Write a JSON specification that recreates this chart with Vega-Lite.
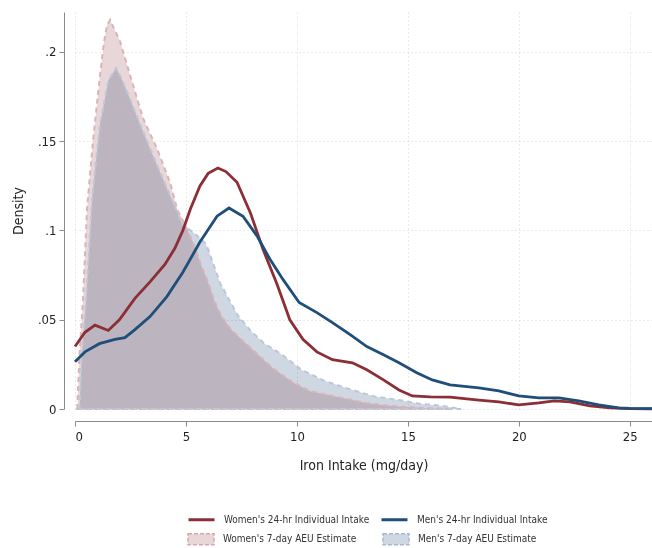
{
  "$schema": "https://vega.github.io/schema/vega-lite/v6.json",
  "width": 577,
  "height": 397,
  "autosize": "none",
  "padding": {"left": 75, "top": 12, "right": 0, "bottom": 139},
  "background": "white",
  "config": {
    "font": "DejaVu Sans Condensed, Liberation Sans Narrow, Liberation Sans",
    "view": {"stroke": null},
    "axis": {
      "grid": true,
      "gridDash": [1, 3],
      "gridColor": "#d4d4d4",
      "gridWidth": 1,
      "domainColor": "#8a8a8a",
      "tickColor": "#8a8a8a",
      "tickSize": 5,
      "labelColor": "#222222",
      "labelFontSize": 13,
      "titleColor": "#222222",
      "titleFontSize": 14,
      "titleFontWeight": "normal"
    },
    "legend": {
      "labelFont": "DejaVu Sans Condensed, Liberation Sans Narrow, Liberation Sans",
      "labelFontSize": 10,
      "labelColor": "#333333"
    }
  },
  "data": {
    "values": [
      {"series": "Women's 24-hr Individual Intake", "x": 0, "y": 0.035},
      {"series": "Women's 24-hr Individual Intake", "x": 0.45, "y": 0.043},
      {"series": "Women's 24-hr Individual Intake", "x": 0.9, "y": 0.047},
      {"series": "Women's 24-hr Individual Intake", "x": 1.5, "y": 0.044},
      {"series": "Women's 24-hr Individual Intake", "x": 2.0, "y": 0.05},
      {"series": "Women's 24-hr Individual Intake", "x": 2.7, "y": 0.062},
      {"series": "Women's 24-hr Individual Intake", "x": 3.4, "y": 0.0715},
      {"series": "Women's 24-hr Individual Intake", "x": 4.05, "y": 0.081},
      {"series": "Women's 24-hr Individual Intake", "x": 4.5, "y": 0.09},
      {"series": "Women's 24-hr Individual Intake", "x": 4.86, "y": 0.1},
      {"series": "Women's 24-hr Individual Intake", "x": 5.2, "y": 0.112},
      {"series": "Women's 24-hr Individual Intake", "x": 5.63, "y": 0.125},
      {"series": "Women's 24-hr Individual Intake", "x": 6.0, "y": 0.132},
      {"series": "Women's 24-hr Individual Intake", "x": 6.44, "y": 0.135},
      {"series": "Women's 24-hr Individual Intake", "x": 6.8, "y": 0.133},
      {"series": "Women's 24-hr Individual Intake", "x": 7.3, "y": 0.127},
      {"series": "Women's 24-hr Individual Intake", "x": 7.9, "y": 0.11},
      {"series": "Women's 24-hr Individual Intake", "x": 8.47, "y": 0.0895},
      {"series": "Women's 24-hr Individual Intake", "x": 9.1, "y": 0.07},
      {"series": "Women's 24-hr Individual Intake", "x": 9.68, "y": 0.05},
      {"series": "Women's 24-hr Individual Intake", "x": 10.27, "y": 0.039},
      {"series": "Women's 24-hr Individual Intake", "x": 10.9, "y": 0.032},
      {"series": "Women's 24-hr Individual Intake", "x": 11.6, "y": 0.0276},
      {"series": "Women's 24-hr Individual Intake", "x": 12.5, "y": 0.0259},
      {"series": "Women's 24-hr Individual Intake", "x": 13.15, "y": 0.022},
      {"series": "Women's 24-hr Individual Intake", "x": 13.9, "y": 0.0163},
      {"series": "Women's 24-hr Individual Intake", "x": 14.6, "y": 0.0107},
      {"series": "Women's 24-hr Individual Intake", "x": 15.2, "y": 0.0073},
      {"series": "Women's 24-hr Individual Intake", "x": 16.0, "y": 0.0068},
      {"series": "Women's 24-hr Individual Intake", "x": 16.9, "y": 0.0066},
      {"series": "Women's 24-hr Individual Intake", "x": 18.2, "y": 0.005},
      {"series": "Women's 24-hr Individual Intake", "x": 19.1, "y": 0.004},
      {"series": "Women's 24-hr Individual Intake", "x": 20.0, "y": 0.0023},
      {"series": "Women's 24-hr Individual Intake", "x": 20.9, "y": 0.0034},
      {"series": "Women's 24-hr Individual Intake", "x": 21.6, "y": 0.0045},
      {"series": "Women's 24-hr Individual Intake", "x": 22.3, "y": 0.004},
      {"series": "Women's 24-hr Individual Intake", "x": 23.2, "y": 0.0017},
      {"series": "Women's 24-hr Individual Intake", "x": 24.1, "y": 0.0006},
      {"series": "Women's 24-hr Individual Intake", "x": 25, "y": 0.0002},
      {"series": "Women's 24-hr Individual Intake", "x": 26, "y": 0.0001},

      {"series": "Men's 24-hr Individual Intake", "x": 0, "y": 0.0265},
      {"series": "Men's 24-hr Individual Intake", "x": 0.45, "y": 0.032},
      {"series": "Men's 24-hr Individual Intake", "x": 1.1, "y": 0.0366},
      {"series": "Men's 24-hr Individual Intake", "x": 1.8, "y": 0.039},
      {"series": "Men's 24-hr Individual Intake", "x": 2.25, "y": 0.04},
      {"series": "Men's 24-hr Individual Intake", "x": 2.7, "y": 0.0445},
      {"series": "Men's 24-hr Individual Intake", "x": 3.38, "y": 0.0518},
      {"series": "Men's 24-hr Individual Intake", "x": 4.14, "y": 0.063},
      {"series": "Men's 24-hr Individual Intake", "x": 4.86, "y": 0.0766},
      {"series": "Men's 24-hr Individual Intake", "x": 5.63, "y": 0.0935},
      {"series": "Men's 24-hr Individual Intake", "x": 6.4, "y": 0.108},
      {"series": "Men's 24-hr Individual Intake", "x": 6.94, "y": 0.1126},
      {"series": "Men's 24-hr Individual Intake", "x": 7.57, "y": 0.108},
      {"series": "Men's 24-hr Individual Intake", "x": 8.2, "y": 0.097},
      {"series": "Men's 24-hr Individual Intake", "x": 8.78, "y": 0.084},
      {"series": "Men's 24-hr Individual Intake", "x": 9.37, "y": 0.0726},
      {"series": "Men's 24-hr Individual Intake", "x": 10.1, "y": 0.0597},
      {"series": "Men's 24-hr Individual Intake", "x": 10.9, "y": 0.054},
      {"series": "Men's 24-hr Individual Intake", "x": 11.6, "y": 0.0484},
      {"series": "Men's 24-hr Individual Intake", "x": 12.4, "y": 0.0417},
      {"series": "Men's 24-hr Individual Intake", "x": 13.15, "y": 0.035},
      {"series": "Men's 24-hr Individual Intake", "x": 13.9, "y": 0.0304},
      {"series": "Men's 24-hr Individual Intake", "x": 14.6, "y": 0.0259},
      {"series": "Men's 24-hr Individual Intake", "x": 15.4, "y": 0.0203},
      {"series": "Men's 24-hr Individual Intake", "x": 16.1, "y": 0.0163},
      {"series": "Men's 24-hr Individual Intake", "x": 16.9, "y": 0.0135},
      {"series": "Men's 24-hr Individual Intake", "x": 18.2, "y": 0.0118},
      {"series": "Men's 24-hr Individual Intake", "x": 19.1, "y": 0.0101},
      {"series": "Men's 24-hr Individual Intake", "x": 20.0, "y": 0.0073},
      {"series": "Men's 24-hr Individual Intake", "x": 20.9, "y": 0.0062},
      {"series": "Men's 24-hr Individual Intake", "x": 21.8, "y": 0.0062},
      {"series": "Men's 24-hr Individual Intake", "x": 22.7, "y": 0.0045},
      {"series": "Men's 24-hr Individual Intake", "x": 23.6, "y": 0.0023},
      {"series": "Men's 24-hr Individual Intake", "x": 24.5, "y": 0.0006},
      {"series": "Men's 24-hr Individual Intake", "x": 25, "y": 0.0003},
      {"series": "Men's 24-hr Individual Intake", "x": 26, "y": 0.0002},

      {"series": "Women's 7-day AEU Estimate", "x": 0.1, "y": 0},
      {"series": "Women's 7-day AEU Estimate", "x": 0.2, "y": 0.03},
      {"series": "Women's 7-day AEU Estimate", "x": 0.36, "y": 0.061},
      {"series": "Women's 7-day AEU Estimate", "x": 0.54, "y": 0.112},
      {"series": "Women's 7-day AEU Estimate", "x": 0.81, "y": 0.15},
      {"series": "Women's 7-day AEU Estimate", "x": 1.13, "y": 0.187},
      {"series": "Women's 7-day AEU Estimate", "x": 1.3, "y": 0.205},
      {"series": "Women's 7-day AEU Estimate", "x": 1.44, "y": 0.215},
      {"series": "Women's 7-day AEU Estimate", "x": 1.58, "y": 0.218},
      {"series": "Women's 7-day AEU Estimate", "x": 1.8, "y": 0.212},
      {"series": "Women's 7-day AEU Estimate", "x": 2.03, "y": 0.206},
      {"series": "Women's 7-day AEU Estimate", "x": 2.48, "y": 0.187},
      {"series": "Women's 7-day AEU Estimate", "x": 3.06, "y": 0.163},
      {"series": "Women's 7-day AEU Estimate", "x": 3.69, "y": 0.146},
      {"series": "Women's 7-day AEU Estimate", "x": 4.28, "y": 0.127},
      {"series": "Women's 7-day AEU Estimate", "x": 4.6, "y": 0.112},
      {"series": "Women's 7-day AEU Estimate", "x": 5.0, "y": 0.102},
      {"series": "Women's 7-day AEU Estimate", "x": 5.33, "y": 0.093},
      {"series": "Women's 7-day AEU Estimate", "x": 5.7, "y": 0.08},
      {"series": "Women's 7-day AEU Estimate", "x": 6.0, "y": 0.071},
      {"series": "Women's 7-day AEU Estimate", "x": 6.3, "y": 0.06},
      {"series": "Women's 7-day AEU Estimate", "x": 6.6, "y": 0.052},
      {"series": "Women's 7-day AEU Estimate", "x": 7.0, "y": 0.045},
      {"series": "Women's 7-day AEU Estimate", "x": 7.5, "y": 0.039},
      {"series": "Women's 7-day AEU Estimate", "x": 8.2, "y": 0.031},
      {"series": "Women's 7-day AEU Estimate", "x": 8.9, "y": 0.023},
      {"series": "Women's 7-day AEU Estimate", "x": 9.8, "y": 0.015},
      {"series": "Women's 7-day AEU Estimate", "x": 10.6, "y": 0.01},
      {"series": "Women's 7-day AEU Estimate", "x": 11.8, "y": 0.0068},
      {"series": "Women's 7-day AEU Estimate", "x": 13.1, "y": 0.0034},
      {"series": "Women's 7-day AEU Estimate", "x": 14.0, "y": 0.002},
      {"series": "Women's 7-day AEU Estimate", "x": 15.0, "y": 0.001},
      {"series": "Women's 7-day AEU Estimate", "x": 16.0, "y": 0.0004},
      {"series": "Women's 7-day AEU Estimate", "x": 17.0, "y": 0},

      {"series": "Men's 7-day AEU Estimate", "x": 0.2, "y": 0},
      {"series": "Men's 7-day AEU Estimate", "x": 0.3, "y": 0.03},
      {"series": "Men's 7-day AEU Estimate", "x": 0.5, "y": 0.061},
      {"series": "Men's 7-day AEU Estimate", "x": 0.77, "y": 0.118},
      {"series": "Men's 7-day AEU Estimate", "x": 0.99, "y": 0.144},
      {"series": "Men's 7-day AEU Estimate", "x": 1.13, "y": 0.16},
      {"series": "Men's 7-day AEU Estimate", "x": 1.26, "y": 0.168},
      {"series": "Men's 7-day AEU Estimate", "x": 1.5, "y": 0.184},
      {"series": "Men's 7-day AEU Estimate", "x": 1.85, "y": 0.191},
      {"series": "Men's 7-day AEU Estimate", "x": 2.1, "y": 0.185},
      {"series": "Men's 7-day AEU Estimate", "x": 2.34, "y": 0.178},
      {"series": "Men's 7-day AEU Estimate", "x": 2.79, "y": 0.164},
      {"series": "Men's 7-day AEU Estimate", "x": 3.38, "y": 0.146},
      {"series": "Men's 7-day AEU Estimate", "x": 3.96, "y": 0.129},
      {"series": "Men's 7-day AEU Estimate", "x": 4.41, "y": 0.116},
      {"series": "Men's 7-day AEU Estimate", "x": 4.86, "y": 0.103},
      {"series": "Men's 7-day AEU Estimate", "x": 5.33, "y": 0.099},
      {"series": "Men's 7-day AEU Estimate", "x": 5.86, "y": 0.093},
      {"series": "Men's 7-day AEU Estimate", "x": 6.0, "y": 0.0895},
      {"series": "Men's 7-day AEU Estimate", "x": 6.53, "y": 0.0708},
      {"series": "Men's 7-day AEU Estimate", "x": 7.0, "y": 0.06},
      {"series": "Men's 7-day AEU Estimate", "x": 7.36, "y": 0.052},
      {"series": "Men's 7-day AEU Estimate", "x": 7.9, "y": 0.044},
      {"series": "Men's 7-day AEU Estimate", "x": 8.5, "y": 0.037},
      {"series": "Men's 7-day AEU Estimate", "x": 9.38, "y": 0.03},
      {"series": "Men's 7-day AEU Estimate", "x": 10.2, "y": 0.022},
      {"series": "Men's 7-day AEU Estimate", "x": 11.2, "y": 0.016},
      {"series": "Men's 7-day AEU Estimate", "x": 12.4, "y": 0.011},
      {"series": "Men's 7-day AEU Estimate", "x": 13.5, "y": 0.007},
      {"series": "Men's 7-day AEU Estimate", "x": 14.6, "y": 0.005},
      {"series": "Men's 7-day AEU Estimate", "x": 15.5, "y": 0.003},
      {"series": "Men's 7-day AEU Estimate", "x": 16.4, "y": 0.002},
      {"series": "Men's 7-day AEU Estimate", "x": 17.4, "y": 0}
    ]
  },
  "encoding": {
    "x": {
      "field": "x", "type": "quantitative",
      "scale": {"domain": [0, 26], "nice": false, "zero": false},
      "axis": {"title": "Iron Intake (mg/day)", "values": [0, 5, 10, 15, 20, 25], "offset": 12, "labelPadding": 4, "titlePadding": 15}
    },
    "y": {
      "field": "y", "type": "quantitative", "stack": null,
      "scale": {"domain": [0, 0.2224], "nice": false},
      "axis": {"title": "Density", "values": [0, 0.05, 0.1, 0.15, 0.2], "offset": 11, "labelPadding": 3, "titlePadding": 12,
        "labelExpr": "datum.value == 0 ? '0' : replace(toString(datum.value), /^0/, '')"}
    }
  },
  "layer": [
    {
      "transform": [{"filter": "datum.series == \"Women's 7-day AEU Estimate\""}],
      "mark": {"type": "area"},
      "encoding": {
        "fill": {
          "field": "series", "type": "nominal",
          "scale": {"domain": ["Women's 7-day AEU Estimate", "Men's 7-day AEU Estimate"], "range": ["#e9d6d8", "#ced7e2"]},
          "legend": {
            "title": null, "orient": "none", "legendX": 112, "legendY": 513,
            "direction": "horizontal", "columns": 2, "columnPadding": 23,
            "symbolType": "M-1,-0.42H1V0.42H-1Z", "symbolSize": 676,
            "symbolStrokeWidth": 1.5, "symbolDash": [4, 2], "labelOffset": 8,
            "encode": {"symbols": {"update": {"stroke": {"signal": "indexof(datum.value, 'Men') === 0 ? '#a9b8cc' : '#d4a8ac'"}}}}
          }
        }
      }
    },
    {
      "transform": [{"filter": "datum.series == \"Men's 7-day AEU Estimate\""}],
      "mark": {"type": "area", "fill": "#ced7e2", "blend": "multiply"},
      "encoding": {}
    },
    {
      "transform": [{"filter": "datum.series == \"Women's 7-day AEU Estimate\""}],
      "mark": {"type": "area", "fillOpacity": 0, "stroke": "#d9b4b8", "strokeWidth": 2, "strokeDash": [5, 4]},
      "encoding": {}
    },
    {
      "transform": [{"filter": "datum.series == \"Men's 7-day AEU Estimate\""}],
      "mark": {"type": "area", "fillOpacity": 0, "stroke": "#bcc8d8", "strokeWidth": 2, "strokeDash": [5, 4]},
      "encoding": {}
    },
    {
      "transform": [{"filter": "indexof(datum.series, '24-hr') >= 0"}],
      "mark": {"type": "line", "strokeWidth": 2.8},
      "encoding": {
        "stroke": {
          "field": "series", "type": "nominal",
          "scale": {"domain": ["Women's 24-hr Individual Intake", "Men's 24-hr Individual Intake"], "range": ["#8c2e35", "#1f4e7a"]},
          "legend": {
            "title": null, "orient": "none", "legendX": 112, "legendY": 493,
            "direction": "horizontal", "columns": 2, "columnPadding": 5,
            "symbolType": "stroke", "symbolSize": 676, "symbolStrokeWidth": 3, "labelOffset": 8
          }
        }
      }
    }
  ]
}
